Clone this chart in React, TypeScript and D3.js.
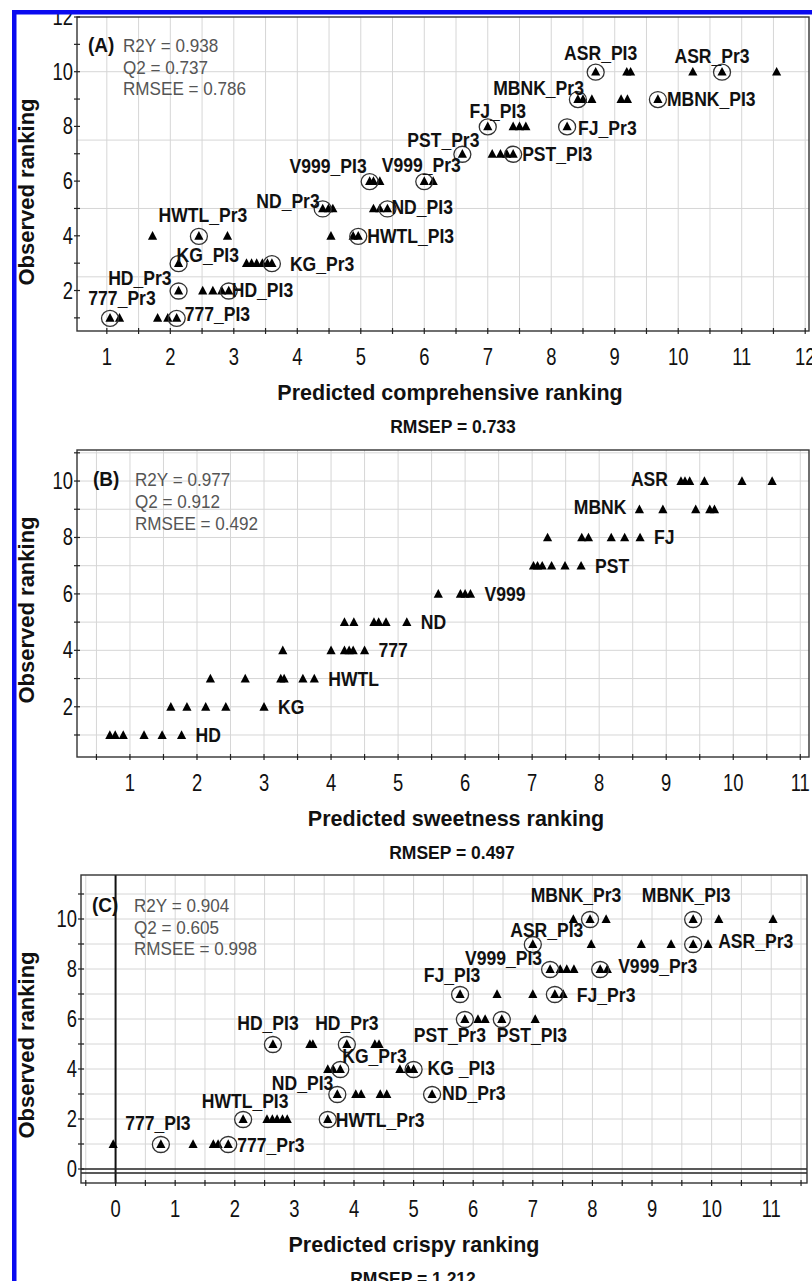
import React from "react";
import * as d3 from "d3";

const FONT = "'Liberation Sans', Arial, Helvetica, sans-serif";

type Pt = [number, number];
type Circ = [string, number, number];
type Place = [string, number, number];

// ---------------- Panel A : comprehensive ranking ----------------
const aPoints: Pt[] = [
  [1.2, 1], [1.8, 1], [1.96, 1],
  [2.51, 2], [2.67, 2], [2.81, 2],
  [3.2, 3], [3.28, 3], [3.36, 3], [3.45, 3], [3.53, 3],
  [1.72, 4], [2.9, 4], [4.53, 4], [4.88, 4],
  [4.49, 5], [4.56, 5], [5.2, 5], [5.3, 5],
  [5.2, 6], [5.3, 6], [6.14, 6],
  [7.07, 7], [7.2, 7], [7.3, 7],
  [7.4, 8], [7.5, 8], [7.6, 8],
  [8.5, 9], [8.64, 9], [9.1, 9], [9.2, 9],
  [9.19, 10], [9.25, 10], [10.23, 10], [11.55, 10],
];
const aCircled: Circ[] = [
  ["777_Pr3", 1.05, 1], ["777_PI3", 2.1, 1], ["HD_Pr3", 2.13, 2], ["HD_PI3", 2.92, 2],
  ["KG_PI3", 2.13, 3], ["KG_Pr3", 3.6, 3], ["HWTL_Pr3", 2.45, 4], ["HWTL_PI3", 4.96, 4],
  ["ND_Pr3", 4.4, 5], ["ND_PI3", 5.42, 5], ["V999_PI3", 5.14, 6], ["V999_Pr3", 6.0, 6],
  ["PST_Pr3", 6.6, 7], ["PST_PI3", 7.4, 7], ["FJ_PI3", 7.0, 8], ["FJ_Pr3", 8.25, 8],
  ["MBNK_Pr3", 8.42, 9], ["MBNK_PI3", 9.68, 9], ["ASR_PI3", 8.7, 10], ["ASR_Pr3", 10.69, 10],
];
const aStats = ["R2Y = 0.938", "Q2 = 0.737", "RMSEE = 0.786"];
const aXLabels = [1, 2, 3, 4, 5, 6, 7, 8, 9, 10, 11, 12];
const aYLabels = [2, 4, 6, 8, 10, 12];
const aYGrid = [2.5, 5, 7.5, 10];

// ---------------- Panel B : sweetness ranking ----------------
const bPoints: Pt[] = [
  [0.7, 1], [0.78, 1], [0.9, 1], [1.21, 1], [1.48, 1], [1.77, 1],
  [1.61, 2], [1.85, 2], [2.13, 2], [2.43, 2], [3.0, 2],
  [2.2, 3], [2.72, 3], [3.25, 3], [3.3, 3], [3.58, 3], [3.75, 3],
  [3.28, 4], [4.0, 4], [4.2, 4], [4.27, 4], [4.33, 4], [4.5, 4],
  [4.2, 5], [4.34, 5], [4.64, 5], [4.71, 5], [4.82, 5], [5.13, 5],
  [5.6, 6], [5.93, 6], [6.0, 6], [6.08, 6],
  [7.02, 7], [7.08, 7], [7.15, 7], [7.29, 7], [7.49, 7], [7.73, 7],
  [7.23, 8], [7.74, 8], [7.84, 8], [8.18, 8], [8.38, 8], [8.61, 8],
  [8.6, 9], [8.95, 9], [9.44, 9], [9.65, 9], [9.72, 9],
  [9.22, 10], [9.28, 10], [9.35, 10], [9.57, 10], [10.13, 10], [10.58, 10],
];
const bRowNames: [string, number][] = [
  ["HD", 1], ["KG", 2], ["HWTL", 3], ["777", 4], ["ND", 5],
  ["V999", 6], ["PST", 7], ["FJ", 8], ["MBNK", 9], ["ASR", 10],
];
const bStats = ["R2Y = 0.977", "Q2 = 0.912", "RMSEE = 0.492"];
const bXLabels = [1, 2, 3, 4, 5, 6, 7, 8, 9, 10, 11];
const bYLabels = [2, 4, 6, 8, 10];
const bYGrid = [1, 2, 3, 4, 5, 6, 7, 8, 9, 10, 11];

// ---------------- Panel C : crispy ranking ----------------
const cPoints: Pt[] = [
  [-0.04, 1], [1.3, 1], [1.64, 1], [1.72, 1],
  [2.54, 2], [2.63, 2], [2.71, 2], [2.8, 2], [2.88, 2],
  [4.03, 3], [4.12, 3], [4.44, 3], [4.55, 3],
  [3.56, 4], [3.65, 4], [4.77, 4], [4.91, 4],
  [3.26, 5], [3.31, 5], [4.35, 5], [4.42, 5],
  [6.08, 6], [6.2, 6], [7.04, 6],
  [6.4, 7], [7.0, 7], [7.51, 7],
  [7.46, 8], [7.57, 8], [7.69, 8], [8.25, 8],
  [7.98, 9], [8.82, 9], [9.32, 9], [9.94, 9],
  [7.68, 10], [8.23, 10], [10.12, 10], [11.03, 10],
];
const cCircled: Circ[] = [
  ["777_PI3", 0.76, 1], ["777_Pr3", 1.89, 1], ["HWTL_PI3", 2.14, 2], ["HWTL_Pr3", 3.56, 2],
  ["ND_PI3", 3.72, 3], ["ND_Pr3", 5.31, 3], ["KG_Pr3", 3.77, 4], ["KG _PI3", 5.0, 4],
  ["HD_PI3", 2.64, 5], ["HD_Pr3", 3.88, 5], ["PST_Pr3", 5.86, 6], ["PST_PI3", 6.48, 6],
  ["FJ_PI3", 5.78, 7], ["FJ_Pr3", 7.37, 7], ["V999_PI3", 7.29, 8], ["V999_Pr3", 8.13, 8],
  ["ASR_PI3", 7.0, 9], ["ASR_Pr3", 9.69, 9], ["MBNK_Pr3", 7.96, 10], ["MBNK_PI3", 9.69, 10],
];
const cStats = ["R2Y = 0.904", "Q2 = 0.605", "RMSEE = 0.998"];
const cXLabels = [0, 1, 2, 3, 4, 5, 6, 7, 8, 9, 10, 11];
const cYLabels = [0, 2, 4, 6, 8, 10];
const cYGrid = [1, 2, 3, 4, 5, 6, 7, 8, 9, 10, 11];

// ---------------- label placement (layout, pixel offsets) ----------------
const aPlace: Place[] = [
  ["middle", 12, -13], ["start", 8, 3], ["end", -7, -6], ["start", 3, 6],
  ["start", -2, -1], ["start", 18, 8], ["middle", 4, -14], ["start", 9, 7],
  ["end", -3, 0], ["start", 4, 6], ["end", -3, -8], ["middle", -3, -9],
  ["middle", -19, -7], ["start", 9, 7], ["middle", 10, -8], ["start", 11, 9],
  ["end", 6, -4], ["start", 9, 7], ["middle", 5, -12], ["middle", -10, -9],
];
const cPlace: Place[] = [
  ["middle", -3, -14], ["start", 9, 8], ["middle", 2, -11], ["start", 8, 8],
  ["end", -4, -4], ["start", 10, 6], ["start", 2, -6], ["start", 14, 6],
  ["middle", -5, -14], ["middle", 0, -14], ["middle", -15, 23], ["start", -5, 23],
  ["middle", -8, -12], ["start", 22, 8], ["end", -8, -4], ["start", 18, 4],
  ["middle", 14, -7], ["start", 25, 4], ["middle", -14, -17], ["middle", -7, -17],
];

function CText(props: any) {
  const { x, y, sx = 1, anchor = "start", size, weight = "normal", fill = "#111", children } = props;
  return (
    <text
      transform={`translate(${x},${y}) scale(${sx},1)`}
      textAnchor={anchor}
      fontFamily={FONT}
      fontSize={size}
      fontWeight={weight}
      fill={fill}
    >
      {children}
    </text>
  );
}

function tri(cx: number, cy: number) {
  return `M${cx},${cy - 4.8}L${cx + 4.6},${cy + 3.9}L${cx - 4.6},${cy + 3.9}Z`;
}

function Panel(p: any) {
  const x = d3.scaleLinear().domain(p.xDomain).range([p.left, p.right]);
  const y = d3.scaleLinear().domain(p.yDomain).range([p.bottom, p.top]);
  const xMinor = d3.range(Math.ceil(p.xDomain[0] * 2) / 2, p.xDomain[1] + 1e-6, 0.5);
  const yMinor = d3.range(Math.ceil(p.yDomain[0]), p.yDomain[1] + 1e-6, 1);
  const grid = "#d6d6d6";
  const axis = "#222";
  const circled: Circ[] = p.circled || [];
  const places: Place[] = p.places || [];
  return (
    <g>
      {xMinor.map((v: number) => (
        <line key={"gx" + v} x1={x(v)} x2={x(v)} y1={p.top} y2={p.bottom} stroke={grid} strokeWidth={1} />
      ))}
      {p.yGrid.map((v: number) => (
        <line key={"gy" + v} x1={p.left} x2={p.right} y1={y(v)} y2={y(v)} stroke={grid} strokeWidth={1} />
      ))}
      {p.zeroLines && (
        <g>
          <line x1={x(0)} x2={x(0)} y1={p.top} y2={p.bottom} stroke="#111" strokeWidth={2} />
          <line x1={p.left} x2={p.right} y1={y(0)} y2={y(0)} stroke="#222" strokeWidth={1.4} />
          <line x1={p.left} x2={p.right} y1={y(0) + 4} y2={y(0) + 4} stroke="#222" strokeWidth={1.4} />
        </g>
      )}
      <rect x={p.left} y={p.top} width={p.right - p.left} height={p.bottom - p.top} fill="none" stroke="#333" strokeWidth={1.4} />
      {xMinor.map((v: number) => (
        <line key={"tx" + v} x1={x(v)} x2={x(v)} y1={p.bottom - 3} y2={p.bottom + 3} stroke={axis} strokeWidth={1.2} />
      ))}
      {yMinor.map((v: number) => (
        <line key={"ty" + v} x1={p.left - 3} x2={p.left + 3} y1={y(v)} y2={y(v)} stroke={axis} strokeWidth={1.2} />
      ))}
      {p.xLabels.map((v: number) => (
        <CText key={"lx" + v} x={x(v)} y={p.bottom + 34} sx={0.8} anchor="middle" size={23} fill="#111">
          {v}
        </CText>
      ))}
      {p.yLabels.map((v: number) => (
        <CText key={"ly" + v} x={p.left - 4} y={y(v) + 8} sx={0.8} anchor="end" size={23} fill="#111">
          {v}
        </CText>
      ))}
      {p.points.map((d: Pt, i: number) => (
        <path key={"p" + i} d={tri(x(d[0]), y(d[1]))} fill="#000" />
      ))}
      {circled.map((d: Circ, i: number) => (
        <g key={"c" + i}>
          <path d={tri(x(d[1]), y(d[2]))} fill="#000" />
          <ellipse cx={x(d[1])} cy={y(d[2]) + 0.5} rx={8.5} ry={8} fill="none" stroke="#333" strokeWidth={1.3} />
        </g>
      ))}
      {circled.map((d: Circ, i: number) => {
        const pl = places[i];
        return (
          <CText key={"cl" + i} x={x(d[1]) + pl[1]} y={y(d[2]) + pl[2]} sx={0.9} anchor={pl[0]} size={19.5} weight="bold" fill="#111">
            {d[0]}
          </CText>
        );
      })}
      {(p.rowNames || []).map((r: [string, number], i: number) => {
        const row = p.points.filter((d: Pt) => d[1] === r[1]).map((d: Pt) => d[0]);
        const left = r[0] === "MBNK" || r[0] === "ASR";
        const px = left ? x(d3.min(row) as number) - 13 : x(d3.max(row) as number) + 14;
        return (
          <CText key={"rl" + i} x={px} y={y(r[1]) + (left ? 5 : 7)} sx={0.9} anchor={left ? "end" : "start"} size={19.5} weight="bold" fill="#111">
            {r[0]}
          </CText>
        );
      })}
      <CText x={p.tagX} y={p.statY} sx={0.95} size={20} weight="bold" fill="#111">
        {p.tag}
      </CText>
      {p.stats.map((s: string, i: number) => (
        <CText key={"s" + i} x={p.statX} y={p.statY + i * p.statGap} sx={0.95} size={18} fill="#555">
          {s}
        </CText>
      ))}
      <text
        transform={`translate(34,${p.yTitleY}) rotate(-90)`}
        textAnchor="middle"
        fontFamily={FONT}
        fontSize={22}
        fontWeight="bold"
        fill="#111"
      >
        Observed ranking
      </text>
      <CText x={p.titleX} y={p.bottom + 69} anchor="middle" size={21.5} weight="bold" fill="#111">
        {p.title}
      </CText>
      <CText x={p.rmsepX} y={p.bottom + 102} anchor="middle" size={17.5} weight="bold" fill="#111">
        {p.rmsep}
      </CText>
    </g>
  );
}

export default function App() {
  return (
    <svg
      width={812}
      height={1281}
      viewBox="0 0 812 1281"
      style={{ position: "absolute", left: 0, top: 0, display: "block", background: "#fff" }}
    >
      <rect x={0} y={0} width={812} height={1281} fill="#fff" />
      <Panel
        left={77} right={809} top={17} bottom={331}
        xDomain={[0.53, 12.06]} yDomain={[0.52, 12]}
        xLabels={aXLabels} yLabels={aYLabels} yGrid={aYGrid}
        points={aPoints} circled={aCircled} places={aPlace}
        stats={aStats} tag="(A)" tagX={88} statX={123} statY={52} statGap={21.5}
        yTitleY={192}
        title="Predicted comprehensive ranking" titleX={450}
        rmsep="RMSEP = 0.733" rmsepX={453}
      />
      <Panel
        left={77} right={809} top={450} bottom={757}
        xDomain={[0.21, 11.13]} yDomain={[0.22, 11.1]}
        xLabels={bXLabels} yLabels={bYLabels} yGrid={bYGrid}
        points={bPoints} rowNames={bRowNames}
        stats={bStats} tag="(B)" tagX={93} statX={135} statY={486} statGap={22}
        yTitleY={610}
        title="Predicted sweetness ranking" titleX={456}
        rmsep="RMSEP = 0.497" rmsepX={452}
      />
      <Panel
        left={81} right={807} top={875} bottom={1183}
        xDomain={[-0.58, 11.6]} yDomain={[-0.56, 11.76]}
        xLabels={cXLabels} yLabels={cYLabels} yGrid={cYGrid}
        points={cPoints} circled={cCircled} places={cPlace}
        stats={cStats} tag="(C)" tagX={92} statX={134} statY={912} statGap={21.5}
        yTitleY={1045} zeroLines={true}
        title="Predicted crispy ranking" titleX={414}
        rmsep="RMSEP = 1.212" rmsepX={413}
      />
      <rect x={0} y={0} width={812} height={10} fill="#fff" />
      <rect x={0} y={0} width={12} height={1281} fill="#fff" />
      <rect x={12} y={10} width={800} height={4.5} fill="#0a0af0" />
      <rect x={12} y={10} width={4.5} height={1271} fill="#0a0af0" />
    </svg>
  );
}
